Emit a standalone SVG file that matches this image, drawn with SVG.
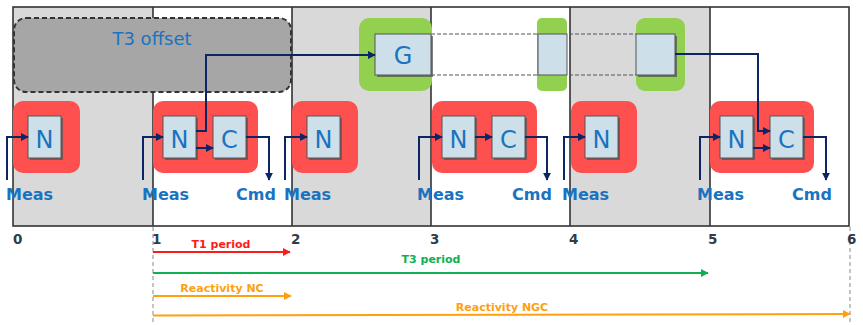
<svg xmlns="http://www.w3.org/2000/svg" width="863" height="325" viewBox="0 0 863 325">
<defs>
<marker id="ah" viewBox="0 0 10 10" refX="9" refY="5" markerWidth="8" markerHeight="8" markerUnits="userSpaceOnUse" orient="auto"><path d="M0,0 L10,5 L0,10 z" fill="#0b2565"/></marker>
<marker id="ahr" viewBox="0 0 10 10" refX="9" refY="5" markerWidth="8" markerHeight="8" markerUnits="userSpaceOnUse" orient="auto"><path d="M0,0 L10,5 L0,10 z" fill="#ff1a1a"/></marker>
<marker id="ahg" viewBox="0 0 10 10" refX="9" refY="5" markerWidth="8" markerHeight="8" markerUnits="userSpaceOnUse" orient="auto"><path d="M0,0 L10,5 L0,10 z" fill="#10b050"/></marker>
<marker id="aho" viewBox="0 0 10 10" refX="9" refY="5" markerWidth="8" markerHeight="8" markerUnits="userSpaceOnUse" orient="auto"><path d="M0,0 L10,5 L0,10 z" fill="#ffa010"/></marker>
</defs>
<style>
.col{fill:#d9d9d9}
.frame{fill:none;stroke:#333;stroke-width:1.6}
.vline{stroke:#333;stroke-width:1.6}
.red{fill:#ff5050}
.grn{fill:#92d050}
.box{fill:#cde0ea;stroke:#555;stroke-width:1}
.sh{fill:#555;opacity:0.75}
.lt{font-family:"DejaVu Sans",sans-serif;font-size:24px;fill:#1a73c0;text-anchor:middle}
.lbl{font-family:"DejaVu Sans",sans-serif;font-size:16px;font-weight:bold;fill:#1a73c0}
.ax{font-family:"DejaVu Sans",sans-serif;font-size:13.5px;font-weight:bold;fill:#2e3d4c}
.per{font-family:"DejaVu Sans",sans-serif;font-size:11px;font-weight:bold;text-anchor:middle}
.conn{fill:none;stroke:#0b2565;stroke-width:2;marker-end:url(#ah)}
.dash{stroke:#555;stroke-width:1;stroke-dasharray:4,2;fill:none}
.vdash{stroke:#888;stroke-width:1;stroke-dasharray:4,3}
</style>
<g id="timeline">
<rect class="col" x="13" y="7" width="140" height="219"/>
<rect class="col" x="292" y="7" width="139" height="219"/>
<rect class="col" x="570" y="7" width="140" height="219"/>
<rect class="frame" x="13" y="7" width="836" height="219"/>
<line class="vline" x1="153" y1="7" x2="153" y2="226"/>
<line class="vline" x1="292" y1="7" x2="292" y2="226"/>
<line class="vline" x1="431" y1="7" x2="431" y2="226"/>
<line class="vline" x1="570" y1="7" x2="570" y2="226"/>
<line class="vline" x1="710" y1="7" x2="710" y2="226"/>
<line class="vdash" x1="153" y1="227" x2="153" y2="325"/>
<line class="vdash" x1="850" y1="227" x2="850" y2="325"/>
<text class="ax" x="13" y="244">0</text>
<text class="ax" x="152" y="244">1</text>
<text class="ax" x="291" y="244">2</text>
<text class="ax" x="430" y="244">3</text>
<text class="ax" x="569" y="244">4</text>
<text class="ax" x="708" y="244">5</text>
<text class="ax" x="847" y="244">6</text>
</g>
<g id="t3offset">
<rect x="14" y="18" width="277" height="74" rx="12" fill="#a6a6a6" stroke="#333" stroke-width="2" stroke-dasharray="5,3"/>
<text x="152" y="45" font-family="DejaVu Sans, sans-serif" font-size="18" fill="#1a73c0" text-anchor="middle">T3 offset</text>
</g>
<g id="gstrip">
<line class="dash" x1="431" y1="34" x2="636" y2="34"/>
<line class="dash" x1="431" y1="75" x2="636" y2="75"/>
</g>
<g id="g1">
<rect class="grn" x="359" y="18" width="73" height="73" rx="10"/>
<rect class="sh" x="377" y="36" width="56" height="41"/>
<rect class="box" x="375" y="34" width="56" height="41"/>
<text class="lt" x="403" y="64">G</text>
</g>
<g id="g2">
<rect class="grn" x="537" y="18" width="30" height="73" rx="5"/>
<rect class="box" x="538" y="34" width="29" height="41"/>
</g>
<g id="g3">
<rect class="grn" x="636" y="18" width="49" height="73" rx="9"/>
<rect class="sh" x="638" y="36" width="39" height="41"/>
<rect class="box" x="636" y="34" width="39" height="41"/>
</g>
<g id="p0">
<rect class="red" x="13" y="101" width="67" height="72" rx="10"/>
<rect class="sh" x="30" y="118" width="33" height="42"/>
<rect class="box" x="28" y="116" width="33" height="42"/>
<text class="lt" x="44.5" y="147.5">N</text>
</g>
<g id="p1">
<rect class="red" x="153" y="101" width="105" height="72" rx="10"/>
<rect class="sh" x="165" y="118" width="33" height="42"/>
<rect class="box" x="163" y="116" width="33" height="42"/>
<text class="lt" x="179.5" y="147.5">N</text>
<rect class="sh" x="215" y="118" width="33" height="42"/>
<rect class="box" x="213" y="116" width="33" height="42"/>
<text class="lt" x="229.5" y="147.5">C</text>
</g>
<g id="p2">
<rect class="red" x="292" y="101" width="66" height="72" rx="10"/>
<rect class="sh" x="309" y="118" width="33" height="42"/>
<rect class="box" x="307" y="116" width="33" height="42"/>
<text class="lt" x="323.5" y="147.5">N</text>
</g>
<g id="p3">
<rect class="red" x="432" y="101" width="105" height="72" rx="10"/>
<rect class="sh" x="444" y="118" width="33" height="42"/>
<rect class="box" x="442" y="116" width="33" height="42"/>
<text class="lt" x="458.5" y="147.5">N</text>
<rect class="sh" x="494" y="118" width="33" height="42"/>
<rect class="box" x="492" y="116" width="33" height="42"/>
<text class="lt" x="508.5" y="147.5">C</text>
</g>
<g id="p4">
<rect class="red" x="571" y="101" width="66" height="72" rx="10"/>
<rect class="sh" x="587" y="118" width="33" height="42"/>
<rect class="box" x="585" y="116" width="33" height="42"/>
<text class="lt" x="601.5" y="147.5">N</text>
</g>
<g id="p5">
<rect class="red" x="710" y="101" width="104" height="72" rx="10"/>
<rect class="sh" x="722" y="118" width="33" height="42"/>
<rect class="box" x="720" y="116" width="33" height="42"/>
<text class="lt" x="736.5" y="147.5">N</text>
<rect class="sh" x="772" y="118" width="33" height="42"/>
<rect class="box" x="770" y="116" width="33" height="42"/>
<text class="lt" x="786.5" y="147.5">C</text>
</g>
<g id="connectors">
<path class="conn" d="M7,180 V137 H28"/>
<path class="conn" d="M143,180 V137 H163"/>
<path class="conn" d="M285,180 V137 H307"/>
<path class="conn" d="M419,180 V137 H442"/>
<path class="conn" d="M564,180 V137 H585"/>
<path class="conn" d="M700,180 V137 H720"/>
<path class="conn" d="M196,148 H213"/>
<path class="conn" d="M196,131 H206 V55 H375"/>
<path class="conn" d="M475,137 H492"/>
<path class="conn" d="M753,148 H770"/>
<path class="conn" d="M675,54 H758 V131 H770"/>
<path class="conn" d="M246,137 H269 V180"/>
<path class="conn" d="M525,137 H547 V180"/>
<path class="conn" d="M803,137 H826 V180"/>
</g>
<g id="labels">
<text class="lbl" x="6" y="200">Meas</text>
<text class="lbl" x="142" y="200">Meas</text>
<text class="lbl" x="284" y="200">Meas</text>
<text class="lbl" x="417" y="200">Meas</text>
<text class="lbl" x="562" y="200">Meas</text>
<text class="lbl" x="697" y="200">Meas</text>
<text class="lbl" x="236" y="200">Cmd</text>
<text class="lbl" x="512" y="200">Cmd</text>
<text class="lbl" x="792" y="200">Cmd</text>
</g>
<g id="periods">
<line x1="153" y1="252" x2="290" y2="252" stroke="#ff1a1a" stroke-width="2" marker-end="url(#ahr)"/>
<text class="per" x="221" y="248" fill="#ff1a1a">T1 period</text>
<line x1="153" y1="273" x2="708" y2="273" stroke="#10b050" stroke-width="2" marker-end="url(#ahg)"/>
<text class="per" x="431" y="263" fill="#10b050">T3 period</text>
<line x1="153" y1="296" x2="291" y2="296" stroke="#ffa010" stroke-width="2" marker-end="url(#aho)"/>
<text class="per" x="222" y="292" fill="#ffa010">Reactivity NC</text>
<line x1="153" y1="315.5" x2="850" y2="314" stroke="#ffa010" stroke-width="2" marker-end="url(#aho)"/>
<text class="per" x="502" y="311" fill="#ffa010">Reactivity NGC</text>
</g>
</svg>
